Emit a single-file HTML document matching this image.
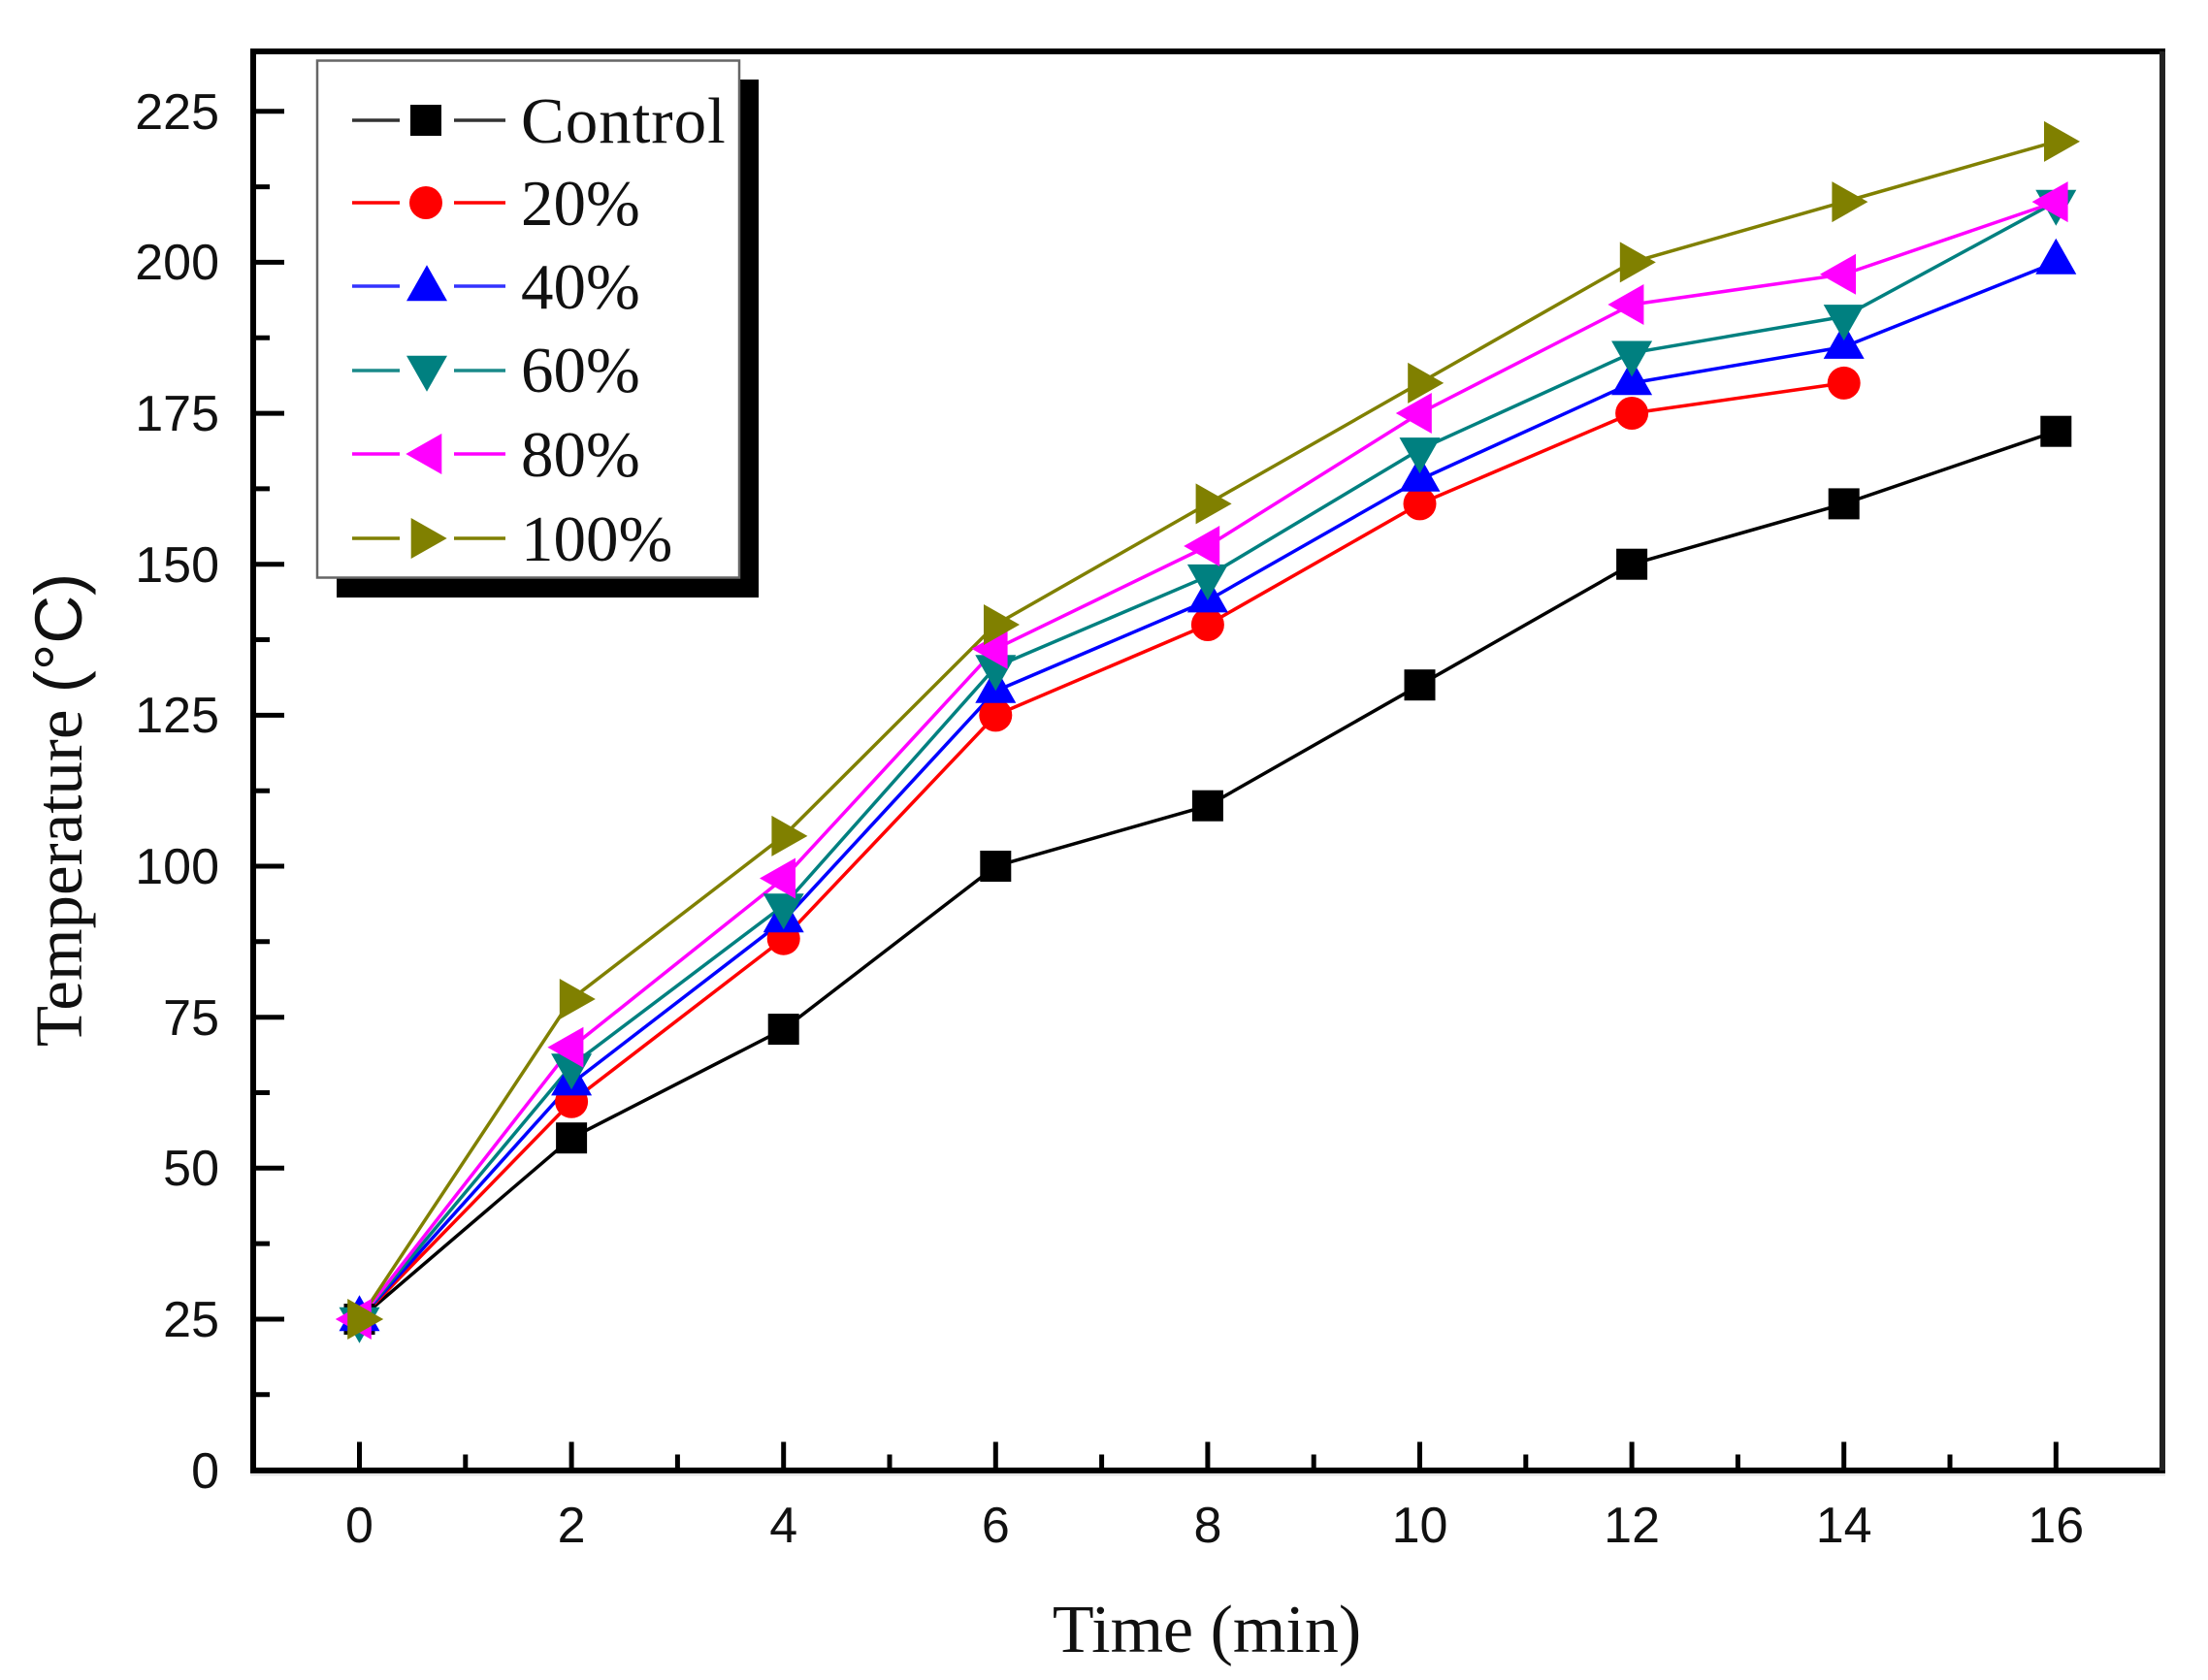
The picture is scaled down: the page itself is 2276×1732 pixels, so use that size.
<!DOCTYPE html>
<html>
<head>
<meta charset="utf-8">
<style>
html,body{margin:0;padding:0;background:#fff;}
svg{display:block;}
</style>
</head>
<body>
<svg width="2276" height="1732" viewBox="0 0 2276 1732" xmlns="http://www.w3.org/2000/svg">
<defs>
  <rect id="mSq" x="-16" y="-16" width="32" height="32"/>
  <circle id="mCi" cx="0" cy="0" r="17"/>
  <polygon id="mUp" points="0,-24.7 21,12.3 -21,12.3"/>
  <polygon id="mDn" points="0,24.7 21,-12.3 -21,-12.3"/>
  <polygon id="mLt" points="-24.7,0 12.3,-21 12.3,21"/>
  <polygon id="mRt" points="24.7,0 -12.3,-21 -12.3,21"/>
</defs>
<rect width="2276" height="1732" fill="#fff"/>

<!-- Y ticks major -->
<g stroke="#000" stroke-width="5">
  <line x1="261" y1="1360.0" x2="293" y2="1360.0"/>
  <line x1="261" y1="1204.3" x2="293" y2="1204.3"/>
  <line x1="261" y1="1048.7" x2="293" y2="1048.7"/>
  <line x1="261" y1="893.0" x2="293" y2="893.0"/>
  <line x1="261" y1="737.4" x2="293" y2="737.4"/>
  <line x1="261" y1="581.7" x2="293" y2="581.7"/>
  <line x1="261" y1="426.1" x2="293" y2="426.1"/>
  <line x1="261" y1="270.4" x2="293" y2="270.4"/>
  <line x1="261" y1="114.8" x2="293" y2="114.8"/>
  <!-- minor -->
  <line x1="261" y1="1437.8" x2="278" y2="1437.8"/>
  <line x1="261" y1="1282.1" x2="278" y2="1282.1"/>
  <line x1="261" y1="1126.5" x2="278" y2="1126.5"/>
  <line x1="261" y1="970.8" x2="278" y2="970.8"/>
  <line x1="261" y1="815.2" x2="278" y2="815.2"/>
  <line x1="261" y1="659.5" x2="278" y2="659.5"/>
  <line x1="261" y1="503.9" x2="278" y2="503.9"/>
  <line x1="261" y1="348.2" x2="278" y2="348.2"/>
  <line x1="261" y1="192.6" x2="278" y2="192.6"/>
</g>
<!-- X ticks -->
<g stroke="#000" stroke-width="5">
  <line x1="370.5" y1="1516" x2="370.5" y2="1486.5"/>
  <line x1="589.1" y1="1516" x2="589.1" y2="1486.5"/>
  <line x1="807.7" y1="1516" x2="807.7" y2="1486.5"/>
  <line x1="1026.3" y1="1516" x2="1026.3" y2="1486.5"/>
  <line x1="1244.9" y1="1516" x2="1244.9" y2="1486.5"/>
  <line x1="1463.5" y1="1516" x2="1463.5" y2="1486.5"/>
  <line x1="1682.1" y1="1516" x2="1682.1" y2="1486.5"/>
  <line x1="1900.7" y1="1516" x2="1900.7" y2="1486.5"/>
  <line x1="2119.3" y1="1516" x2="2119.3" y2="1486.5"/>
  <line x1="479.8" y1="1516" x2="479.8" y2="1499.5"/>
  <line x1="698.4" y1="1516" x2="698.4" y2="1499.5"/>
  <line x1="917.0" y1="1516" x2="917.0" y2="1499.5"/>
  <line x1="1135.6" y1="1516" x2="1135.6" y2="1499.5"/>
  <line x1="1354.2" y1="1516" x2="1354.2" y2="1499.5"/>
  <line x1="1572.8" y1="1516" x2="1572.8" y2="1499.5"/>
  <line x1="1791.4" y1="1516" x2="1791.4" y2="1499.5"/>
  <line x1="2010.0" y1="1516" x2="2010.0" y2="1499.5"/>
</g>

<!-- Frame -->
<line x1="258" y1="1520" x2="2232" y2="1520" stroke="#e6e6e6" stroke-width="3"/>
<rect x="261" y="53" width="1968" height="1463" fill="none" stroke="#000" stroke-width="6"/>
<line x1="2229" y1="53" x2="2229" y2="1516" stroke="#222" stroke-width="6"/>

<!-- Y tick labels -->
<g font-family="'Liberation Sans', Arial, sans-serif" font-size="52" fill="#111" text-anchor="end">
  <text x="226" y="1534">0</text>
  <text x="226" y="1378">25</text>
  <text x="226" y="1222">50</text>
  <text x="226" y="1067">75</text>
  <text x="226" y="911">100</text>
  <text x="226" y="755">125</text>
  <text x="226" y="600">150</text>
  <text x="226" y="444">175</text>
  <text x="226" y="288">200</text>
  <text x="226" y="133">225</text>
</g>
<!-- X tick labels -->
<g font-family="'Liberation Sans', Arial, sans-serif" font-size="52" fill="#111" text-anchor="middle">
  <text x="370.5" y="1590">0</text>
  <text x="589.1" y="1590">2</text>
  <text x="807.7" y="1590">4</text>
  <text x="1026.3" y="1590">6</text>
  <text x="1244.9" y="1590">8</text>
  <text x="1463.5" y="1590">10</text>
  <text x="1682.1" y="1590">12</text>
  <text x="1900.7" y="1590">14</text>
  <text x="2119.3" y="1590">16</text>
</g>

<!-- Axis titles -->
<text x="1244" y="1703" font-family="'Liberation Serif', 'Times New Roman', serif" font-size="70" fill="#111" text-anchor="middle">Time (min)</text>
<text transform="translate(84,835) rotate(-90)" font-family="'Liberation Serif', 'Times New Roman', serif" font-size="69" fill="#111" text-anchor="middle">Temperature <tspan font-family="'Liberation Sans', Arial, sans-serif">(°C)</tspan></text>

<!-- Series lines -->
<g fill="none" stroke-width="3.5" stroke-linejoin="round">
  <polyline stroke="#000" points="370.5,1360.0 589.1,1173.2 807.7,1061.1 1026.3,893.0 1244.9,830.7 1463.5,706.2 1682.1,581.7 1900.7,519.4 2119.3,444.7"/>
  <polyline stroke="#ff0000" points="370.5,1360.0 589.1,1135.8 807.7,967.7 1026.3,737.4 1244.9,644.0 1463.5,519.4 1682.1,426.0 1900.7,394.9"/>
  <polyline stroke="#0000ff" points="370.5,1360.0 589.1,1117.1 807.7,949.0 1026.3,712.4 1244.9,619.1 1463.5,494.5 1682.1,394.9 1900.7,357.6 2119.3,270.4"/>
  <polyline stroke="#008080" points="370.5,1360.0 589.1,1098.5 807.7,933.5 1026.3,687.5 1244.9,594.2 1463.5,463.4 1682.1,363.8 1900.7,326.4 2119.3,208.1"/>
  <polyline stroke="#ff00ff" points="370.5,1360.0 589.1,1079.8 807.7,905.5 1026.3,668.9 1244.9,563.0 1463.5,426.0 1682.1,314.0 1900.7,282.8 2119.3,208.1"/>
  <polyline stroke="#808000" points="370.5,1360.0 589.1,1030.0 807.7,861.9 1026.3,644.0 1244.9,519.4 1463.5,394.9 1682.1,270.4 1900.7,208.1 2119.3,145.9"/>
</g>

<!-- Markers -->
<g fill="#000">
  <use href="#mSq" x="370.5" y="1360.0"/><use href="#mSq" x="589.1" y="1173.2"/><use href="#mSq" x="807.7" y="1061.1"/><use href="#mSq" x="1026.3" y="893.0"/><use href="#mSq" x="1244.9" y="830.7"/><use href="#mSq" x="1463.5" y="706.2"/><use href="#mSq" x="1682.1" y="581.7"/><use href="#mSq" x="1900.7" y="519.4"/><use href="#mSq" x="2119.3" y="444.7"/>
</g>
<g fill="#ff0000">
  <use href="#mCi" x="370.5" y="1360.0"/><use href="#mCi" x="589.1" y="1135.8"/><use href="#mCi" x="807.7" y="967.7"/><use href="#mCi" x="1026.3" y="737.4"/><use href="#mCi" x="1244.9" y="644.0"/><use href="#mCi" x="1463.5" y="519.4"/><use href="#mCi" x="1682.1" y="426.0"/><use href="#mCi" x="1900.7" y="394.9"/>
</g>
<g fill="#0000ff">
  <use href="#mUp" x="370.5" y="1360.0"/><use href="#mUp" x="589.1" y="1117.1"/><use href="#mUp" x="807.7" y="949.0"/><use href="#mUp" x="1026.3" y="712.4"/><use href="#mUp" x="1244.9" y="619.1"/><use href="#mUp" x="1463.5" y="494.5"/><use href="#mUp" x="1682.1" y="394.9"/><use href="#mUp" x="1900.7" y="357.6"/><use href="#mUp" x="2119.3" y="270.4"/>
</g>
<g fill="#008080">
  <use href="#mDn" x="370.5" y="1360.0"/><use href="#mDn" x="589.1" y="1098.5"/><use href="#mDn" x="807.7" y="933.5"/><use href="#mDn" x="1026.3" y="687.5"/><use href="#mDn" x="1244.9" y="594.2"/><use href="#mDn" x="1463.5" y="463.4"/><use href="#mDn" x="1682.1" y="363.8"/><use href="#mDn" x="1900.7" y="326.4"/><use href="#mDn" x="2119.3" y="208.1"/>
</g>
<g fill="#ff00ff">
  <use href="#mLt" x="370.5" y="1360.0"/><use href="#mLt" x="589.1" y="1079.8"/><use href="#mLt" x="807.7" y="905.5"/><use href="#mLt" x="1026.3" y="668.9"/><use href="#mLt" x="1244.9" y="563.0"/><use href="#mLt" x="1463.5" y="426.0"/><use href="#mLt" x="1682.1" y="314.0"/><use href="#mLt" x="1900.7" y="282.8"/><use href="#mLt" x="2119.3" y="208.1"/>
</g>
<g fill="#808000">
  <use href="#mRt" x="370.5" y="1360.0"/><use href="#mRt" x="589.1" y="1030.0"/><use href="#mRt" x="807.7" y="861.9"/><use href="#mRt" x="1026.3" y="644.0"/><use href="#mRt" x="1244.9" y="519.4"/><use href="#mRt" x="1463.5" y="394.9"/><use href="#mRt" x="1682.1" y="270.4"/><use href="#mRt" x="1900.7" y="208.1"/><use href="#mRt" x="2119.3" y="145.9"/>
</g>

<!-- Legend -->
<rect x="347" y="82" width="435" height="534" fill="#000"/>
<rect x="327" y="62.5" width="435" height="533" fill="#fff" stroke="#666" stroke-width="2.5"/>
<g stroke-width="3.5">
  <line x1="363" y1="124" x2="412" y2="124" stroke="#333"/><line x1="468" y1="124" x2="521" y2="124" stroke="#333"/>
  <line x1="363" y1="209" x2="412" y2="209" stroke="#ff0000"/><line x1="468" y1="209" x2="521" y2="209" stroke="#ff0000"/>
  <line x1="363" y1="295" x2="412" y2="295" stroke="#3333ff"/><line x1="468" y1="295" x2="521" y2="295" stroke="#3333ff"/>
  <line x1="363" y1="382" x2="412" y2="382" stroke="#1a8a8a"/><line x1="468" y1="382" x2="521" y2="382" stroke="#1a8a8a"/>
  <line x1="363" y1="468" x2="412" y2="468" stroke="#ff00ff"/><line x1="468" y1="468" x2="521" y2="468" stroke="#ff00ff"/>
  <line x1="363" y1="555" x2="412" y2="555" stroke="#808000"/><line x1="468" y1="555" x2="521" y2="555" stroke="#808000"/>
</g>
<use href="#mSq" x="439" y="124" fill="#000"/>
<use href="#mCi" x="439" y="209" fill="#ff0000"/>
<use href="#mUp" x="440" y="298" fill="#0000ff"/>
<use href="#mDn" x="440" y="379" fill="#008080"/>
<use href="#mLt" x="443" y="468" fill="#ff00ff"/>
<use href="#mRt" x="436" y="555" fill="#808000"/>
<g font-family="'Liberation Serif', 'Times New Roman', serif" font-size="67" fill="#111">
  <text x="537" y="147" letter-spacing="1">Control</text>
  <text x="537" y="232">20%</text>
  <text x="537" y="318">40%</text>
  <text x="537" y="404">60%</text>
  <text x="537" y="491">80%</text>
  <text x="537" y="578">100%</text>
</g>
</svg>
</body>
</html>
